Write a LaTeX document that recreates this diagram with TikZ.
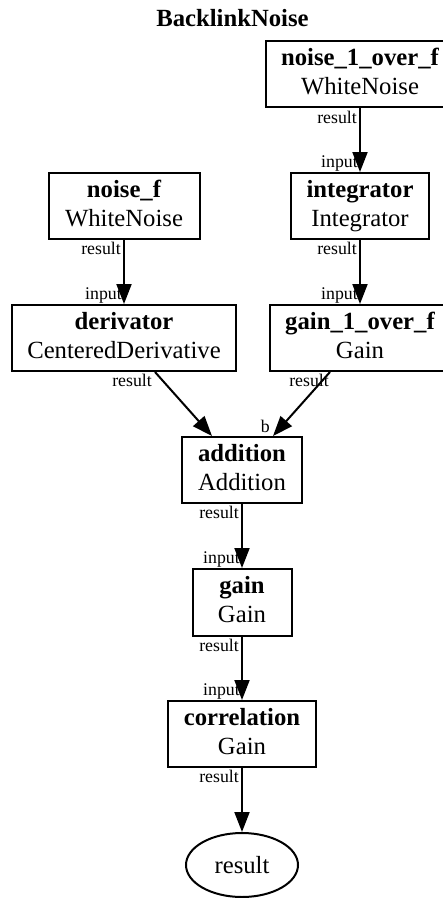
\documentclass[tikz,border=0pt]{standalone}
\usepackage{fontspec}
\setmainfont{Liberation Serif}
\usetikzlibrary{arrows.meta,shapes.geometric}
\begin{document}
\begin{tikzpicture}[x=1pt,y=-1pt,
  blk/.style={draw, line width=2pt, rectangle, minimum height=66pt, inner sep=0pt},
  nm/.style={anchor=base, font=\fontsize{24.7}{29}\selectfont\bfseries, inner sep=0pt},
  cls/.style={anchor=base, font=\fontsize{24.7}{29}\selectfont, inner sep=0pt},
  port/.style={anchor=base east, font=\fontsize{17.8}{20}\selectfont, inner sep=0pt},
  edge/.style={line width=2pt, -{Triangle[length=20pt,width=15pt]}},
]
\useasboundingbox (0,0) rectangle (443,898);
\node[nm] (title) at (232.5,26) {BacklinkNoise};

% blocks
\node[blk, minimum width=188pt] (n1of) at (360,74) {};
\node[nm] (n1ofa) at ([yshift=9pt]n1of.center) {noise\_1\_over\_f};
\node[cls] (n1ofb) at ([yshift=-20pt]n1of.center) {WhiteNoise};

\node[blk, minimum width=151pt] (nf) at (124,206) {};
\node[nm] (nfa) at ([yshift=9pt]nf.center) {noise\_f};
\node[cls] (nfb) at ([yshift=-20pt]nf.center) {WhiteNoise};

\node[blk, minimum width=138pt] (integ) at (360,206) {};
\node[nm] (intega) at ([yshift=9pt]integ.center) {integrator};
\node[cls] (integb) at ([yshift=-20pt]integ.center) {Integrator};

\node[blk, minimum width=224pt] (der) at (124,338) {};
\node[nm] (dera) at ([yshift=9pt]der.center) {derivator};
\node[cls] (derb) at ([yshift=-20pt]der.center) {CenteredDerivative};

\node[blk, minimum width=180pt] (g1of) at (360,338) {};
\node[nm] (g1ofa) at ([yshift=9pt]g1of.center) {gain\_1\_over\_f};
\node[cls] (g1ofb) at ([yshift=-20pt]g1of.center) {Gain};

\node[blk, minimum width=120pt] (add) at (242,470) {};
\node[nm] (adda) at ([yshift=9pt]add.center) {addition};
\node[cls] (addb) at ([yshift=-20pt]add.center) {Addition};

\node[blk, minimum width=99pt, minimum height=67pt] (gain) at (242,602.5) {};
\node[nm] (gaina) at ([yshift=9pt]gain.center) {gain};
\node[cls] (gainb) at ([yshift=-20pt]gain.center) {Gain};

\node[blk, minimum width=148pt] (corr) at (242,734) {};
\node[nm] (corra) at ([yshift=9pt]corr.center) {correlation};
\node[cls] (corrb) at ([yshift=-20pt]corr.center) {Gain};

\node[draw, ellipse, line width=2pt, minimum width=112pt, minimum height=64pt, inner sep=0pt] (res) at (242,865) {};
\node[cls] (resa) at ([yshift=-8pt]res.center) {result};

% port labels
\node[port] (p1) at (357,123) {result};
\node[port] (p2) at (358,167) {input};
\node[port] (p3) at (121,254) {result};
\node[port] (p4) at (122,299) {input};
\node[port] (p5) at (357,254) {result};
\node[port] (p6) at (358,299) {input};
\node[port] (p7) at (152,386) {result};
\node[port] (p8) at (329,386) {result};
\node[port] (p9) at (270,432) {b};
\node[port] (p10) at (239,518) {result};
\node[port] (p11) at (240,563) {input};
\node[port] (p12) at (239,651) {result};
\node[port] (p13) at (240,695) {input};
\node[port] (p14) at (239,782) {result};

% edges
\draw[edge] (n1of) -- (integ);
\draw[edge] (nf) -- (der);
\draw[edge] (integ) -- (g1of);
\draw[edge] ([xshift=31pt]der.south) -- ([xshift=-30pt]add.north);
\draw[edge] ([xshift=-30pt]g1of.south) -- ([xshift=31pt]add.north);
\draw[edge] (add) -- (gain);
\draw[edge] (gain) -- (corr);
\draw[edge] (corr) -- (res);
\end{tikzpicture}
\end{document}
